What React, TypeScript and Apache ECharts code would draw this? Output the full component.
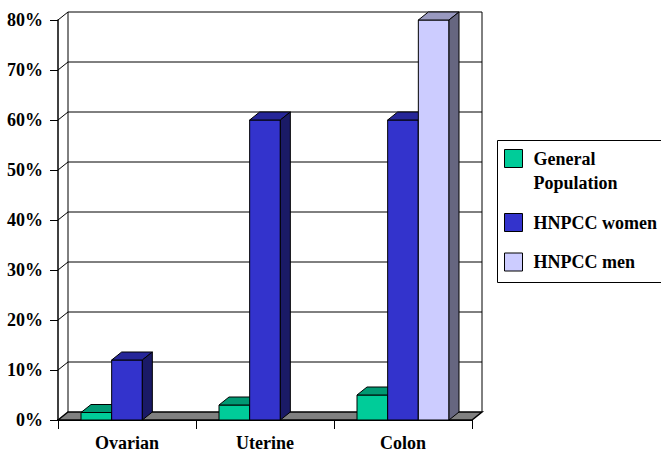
import React, { useEffect, useRef } from 'react';
import * as echarts from 'echarts';

const categories = ['Ovarian', 'Uterine', 'Colon'];
const seriesNames = ['General Population', 'HNPCC women', 'HNPCC men'];
const generalPopulation: (number | null)[] = [0.015, 0.03, 0.05];
const hnpccWomen: (number | null)[] = [0.12, 0.6, 0.6];
const hnpccMen: (number | null)[] = [null, null, 0.8];
const yTickValues = [0, 0.1, 0.2, 0.3, 0.4, 0.5, 0.6, 0.7, 0.8];

const seriesValues = [generalPopulation, hnpccWomen, hnpccMen];
const faceColors = [
  { front: '#00CC99', top: '#009973', side: '#00664D' },
  { front: '#3333CC', top: '#262699', side: '#1A1A66' },
  { front: '#CCCCFF', top: '#9999BF', side: '#666680' },
];

const DX = 10;
const DY = -8;
const FONT = "'Liberation Serif'";

export default function App() {
  const ref = useRef<HTMLDivElement>(null);
  useEffect(() => {
    document.body.style.margin = '0';
    if (!ref.current) return;
    const chart = echarts.init(ref.current, undefined, { renderer: 'svg' });

    const wallSeries: any = {
      type: 'custom',
      name: 'walls',
      silent: true,
      clip: false,
      z: 1,
      data: [[0, 0]],
      renderItem: (params: any, api: any) => {
        const cs = params.coordSys;
        const left = cs.x;
        const right = cs.x + cs.width;
        const bottom = api.coord([0, 0])[1];
        const top = api.coord([0, yTickValues[yTickValues.length - 1]])[1];
        const black = { stroke: '#000', lineWidth: 1 };
        const children: any[] = [];
        children.push({
          type: 'polygon',
          shape: {
            points: [
              [left, bottom],
              [left + DX, bottom + DY],
              [right + DX, bottom + DY],
              [right, bottom],
            ],
          },
          style: { fill: '#808080', stroke: '#000', lineWidth: 1.5 },
        });
        yTickValues.forEach((v) => {
          if (v === 0) return;
          const y = api.coord([0, v])[1];
          children.push({
            type: 'line',
            shape: { x1: left + DX, y1: y + DY, x2: right + DX, y2: y + DY },
            style: black,
          });
          children.push({
            type: 'line',
            shape: { x1: left, y1: y, x2: left + DX, y2: y + DY },
            style: black,
          });
        });
        children.push({
          type: 'line',
          shape: { x1: left + DX, y1: top + DY, x2: left + DX, y2: bottom + DY },
          style: black,
        });
        children.push({
          type: 'line',
          shape: { x1: right + DX, y1: top + DY, x2: right + DX, y2: bottom + DY },
          style: black,
        });
        return { type: 'group', children };
      },
    };

    const barSeries = seriesNames.map((name, i) => ({
      type: 'custom',
      name,
      clip: false,
      z: 3,
      itemStyle: { color: faceColors[i].front, borderColor: '#000', borderWidth: 1 },
      data: seriesValues[i]
        .map((v, j) => (v == null ? null : [j, v]))
        .filter((d) => d != null),
      renderItem: (params: any, api: any) => {
        const catIdx = api.value(0);
        const val = api.value(1);
        const base = api.coord([catIdx, 0]);
        const topPt = api.coord([catIdx, val]);
        const band = api.size([1, 0])[0];
        const bw = band / 4.5;
        const x0 = base[0] - 1.5 * bw + i * bw;
        const x1 = x0 + bw;
        const y0 = base[1];
        const yt = topPt[1];
        const stroke = { stroke: '#000', lineWidth: 1 };
        return {
          type: 'group',
          children: [
            {
              type: 'rect',
              shape: { x: x0, y: yt, width: bw, height: y0 - yt },
              style: { fill: faceColors[i].front, ...stroke },
            },
            {
              type: 'polygon',
              shape: {
                points: [
                  [x0, yt],
                  [x0 + DX, yt + DY],
                  [x1 + DX, yt + DY],
                  [x1, yt],
                ],
              },
              style: { fill: faceColors[i].top, ...stroke },
            },
            {
              type: 'polygon',
              shape: {
                points: [
                  [x1, yt],
                  [x1 + DX, yt + DY],
                  [x1 + DX, y0 + DY],
                  [x1, y0],
                ],
              },
              style: { fill: faceColors[i].side, ...stroke },
            },
          ],
        };
      },
    }));

    const legendTops = [122.5, 210.5, 250];

    chart.setOption({
      animation: false,
      backgroundColor: '#fff',
      grid: { left: 58, right: 189, top: 20, bottom: 31 },
      xAxis: {
        type: 'category',
        data: categories,
        axisLine: { show: true, lineStyle: { color: '#000', width: 2 } },
        axisTick: { show: true, length: 9, lineStyle: { color: '#000', width: 1 } },
        axisLabel: {
          margin: 14,
          fontFamily: FONT,
          fontWeight: 'bold',
          fontSize: 18,
          color: '#000',
        },
        splitLine: { show: false },
      },
      yAxis: {
        type: 'value',
        min: 0,
        max: 0.8,
        interval: 0.1,
        axisLine: { show: true, lineStyle: { color: '#000', width: 1.5 } },
        axisTick: { show: true, length: 8, lineStyle: { color: '#000', width: 1 } },
        axisLabel: {
          margin: 15,
          fontFamily: FONT,
          fontWeight: 'bold',
          fontSize: 18,
          color: '#000',
          formatter: (v: number) => Math.round(v * 100) + '%',
        },
        splitLine: { show: false },
      },
      legend: seriesNames.map((name, i) => ({
        data: [name],
        orient: 'vertical',
        left: 504,
        top: legendTops[i],
        padding: 0,
        itemWidth: 18,
        itemHeight: 18,
        icon: 'rect',
        selectedMode: false,
        itemStyle: { borderColor: '#000', borderWidth: 1 },
        textStyle: {
          fontFamily: FONT,
          fontWeight: 'bold',
          fontSize: 18,
          color: '#000',
          lineHeight: 24,
          padding: [0, 0, 0, 6],
        },
        formatter: (n: string) => (n === 'General Population' ? '\nGeneral\nPopulation' : n),
      })),
      graphic: [
        {
          type: 'rect',
          shape: { x: 497.5, y: 140.5, width: 180, height: 142 },
          style: { fill: 'none', stroke: '#000', lineWidth: 1 },
          silent: true,
        },
      ],
      series: [wallSeries, ...barSeries],
    });

    return () => {
      chart.dispose();
    };
  }, []);

  return <div ref={ref} style={{ width: 661, height: 452 }} />;
}
